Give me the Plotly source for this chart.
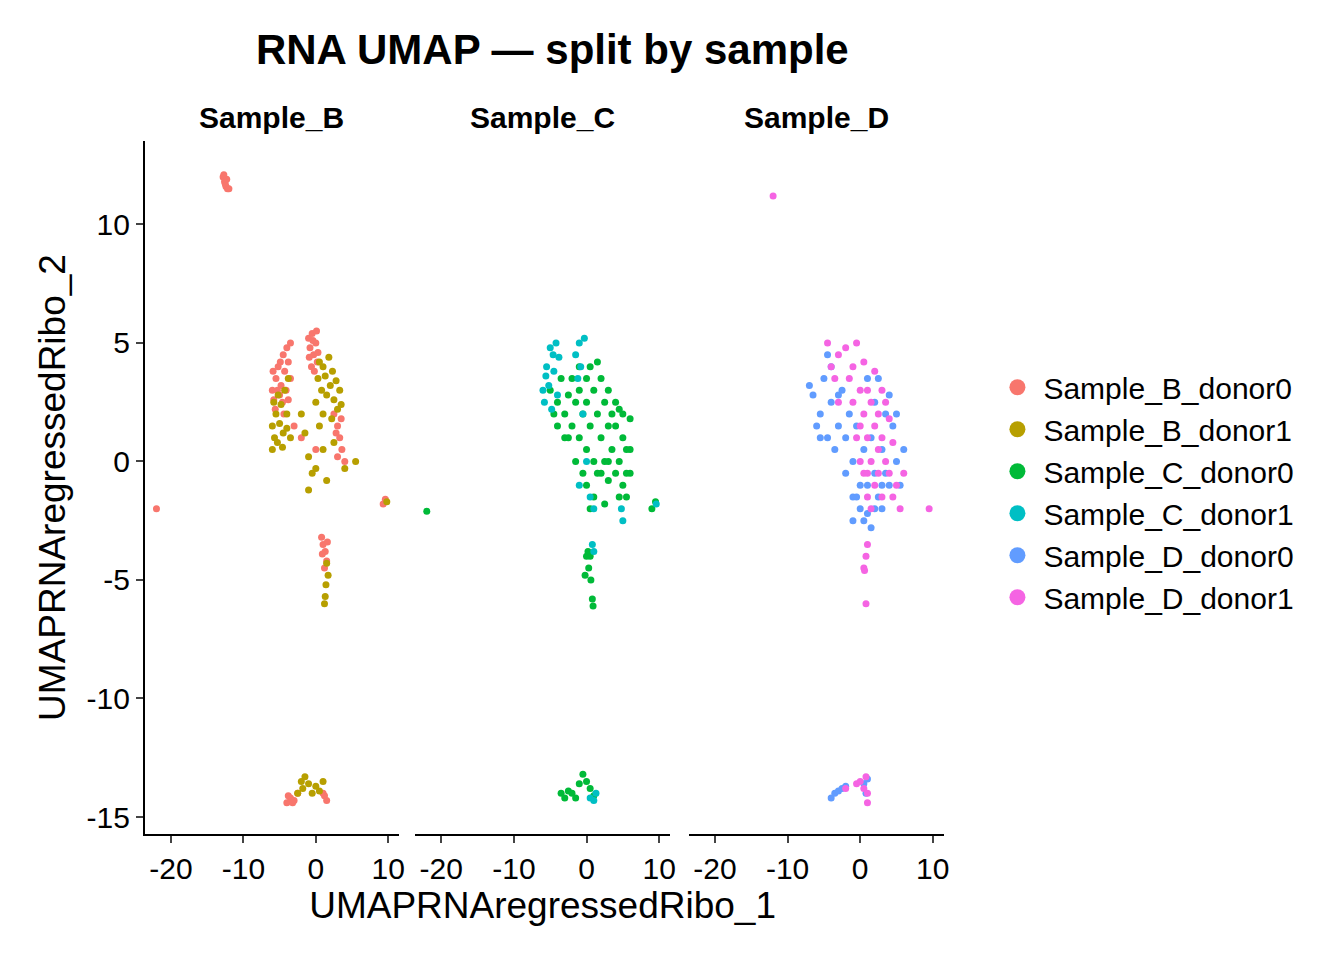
import plotly.graph_objects as go

samples = ["Sample_B", "Sample_C", "Sample_D"]
groups = ["Sample_B_donor0", "Sample_B_donor1", "Sample_C_donor0",
          "Sample_C_donor1", "Sample_D_donor0", "Sample_D_donor1"]
colors = ["#F8766D", "#B79F00", "#00BA38", "#00BFC4", "#619CFF", "#F564E3"]

B0 = [(-12.8,12.0),(-12.6,11.8),(-12.4,11.6),(-12.2,11.5),(-12.5,11.7),(-12.3,11.9),(-12.0,11.5),(-12.7,12.1),
      (-6,3),(-5.8,2.6),(-5.5,3.5),(-5.2,4),(-5,2.8),(-4.8,3.2),(-4.5,4.5),(-4.3,3.8),(-4,4.8),(-3.8,4.2),
      (-3.5,3.5),(-3.5,5),(-5.6,2.2),(-5.3,3.0),(-4.6,2.5),(-4.1,3.0),(-3.8,2.6),(-5.9,3.8),(-4.9,4.2),(-4.4,2.0),
      (-1,5.2),(-0.8,4.8),(-0.5,5.4),(-0.3,4.5),(0,5),(0.2,4.2),(-0.6,4.0),(-0.9,4.4),(0.1,5.5),(-0.2,3.8),
      (0.3,4.6),(-0.4,5.1),(2.5,2),(3,1.5),(3.3,1),(3.6,0.5),(4,0),(3,0.2),(2.8,1.2),(3.5,1.8),
      (-3,1.5),(-2,1),(0,0.5),(0.8,-3.2),(1,-3.5),(1.3,-3.8),(1.5,-4.2),(1.6,-3.4),(1.2,-4.5),(0.9,-3.9),
      (-4,-14.4),(-3.5,-14.2),(-3,-14.3),(-2.5,-14.0),(-3.8,-14.1),(1,-14),(1.5,-14.3),(1.2,-14.1),(-3.2,-14.4),
      (-22,-2),(9.3,-1.8),(9.6,-1.6)]
B1 = [(-6,0.5),(-6,1.5),(-5.7,1),(-5.5,2),(-5.3,0.8),(-5,1.6),(-4.8,2.4),(-4.5,1.2),(-4.3,3),(-4,2),
      (-3.8,3.5),(-3.5,1),(-5.8,2.5),(-5.2,2.8),(-4.6,0.6),(-4,1.4),
      (0,2.5),(0.3,3.5),(0.5,4.2),(0.8,3),(1,4),(1.3,3.6),(1.5,2.8),(1.8,4.4),(2,3.2),(2.3,3.8),(2.5,2.6),
      (2.8,3.4),(3,2.2),(3.3,3),(3.5,2.4),(1,2),(0.5,1.5),(2.2,1.8),
      (-2,2),(-1.5,1.2),(-1,0.2),(-0.5,-0.5),(-1,-1.2),(0,-0.3),(1,0.5),(1.5,-0.8),(4,-0.3),(5.5,0),(2.5,0.8),
      (1.5,-4.3),(1.7,-4.8),(1.4,-5.2),(1.3,-5.7),(1.2,-6),
      (-2,-13.5),(-1.5,-13.3),(-1,-13.6),(0,-13.7),(0.5,-13.9),(1,-13.5),(-0.5,-14),(-2.5,-14),(-1.8,-13.8),
      (9.8,-1.7)]
C0 = [(-5,3),(-4.5,2),(-4,2.5),(-3.5,3.5),(-3,2),(-3,1),(-2.5,2.8),(-2,3.5),(-2,1.5),(-1.5,2.5),(-1,4),
      (-1,3),(-1,1),(-0.5,2),(0,3.5),(0,2.5),(0,0.5),(0,-1),(0.5,4),(0.5,1.5),(1,3),(1,0),(1,-1.5),(1.5,4.2),
      (1.5,2),(2,3.5),(2,1),(2,-0.5),(2.5,2.5),(2.5,0),(3,3),(3,1.5),(3,-0.8),(3.5,2),(3.5,0.5),(4,1.5),
      (4,-0.5),(4.5,2.2),(4.5,0),(5,1),(5,-1),(5.5,0.5),(5.5,-1.5),(6,1.8),(6,-0.5),(4,2.5),(5,2),(-0.5,-0.5),
      (-1.5,0),(0.5,-2),(-4,1.5),(-2.5,1),(1.5,-0.5),(3,0),(4.5,-1.5),(2.5,-1.8),(6,0.5),(5.5,-0.5),
      (0,-4),(0.3,-4.5),(0.5,-4),(-0.2,-4.8),(0.6,-5),(0.8,-5.8),(0.9,-6.1),(0.2,-3.8),
      (-3,-14.2),(-2.5,-13.9),(-2,-14),(-1.5,-14.2),(-1,-13.6),(-0.5,-13.2),(0,-13.5),(0.5,-13.8),(1,-14.1),
      (-3.5,-14),(-22,-2.1),(9,-2),(9.5,-1.7)]
C1 = [(-6,3),(-5.8,2.5),(-5.5,4),(-5.2,3.2),(-5,4.8),(-4.8,2.2),(-4.5,3.8),(-4.2,5),(-4,2.8),(-3.8,4.4),
      (-5.6,3.6),(-4.6,4.5),(-1.5,4.5),(-1,5),(-0.8,4),(-0.3,5.2),(-1.2,3.5),(-0.5,2),(0,0),(0.5,-1.5),
      (1,-2),(-1,-1),(5,-2.5),(4.8,-2),(0.8,-3.5),(1,-3.8),(0.5,-14.2),(1,-14.3),(1.3,-14),(9.6,-1.8)]
D0 = [(-7,3.2),(-6.5,2.8),(-6,1.5),(-5.5,2),(-5,3.5),(-4.5,1),(-4,4),(-4,2.5),(-3.5,0.5),(-3,1.5),
      (-2.5,3),(-2,1),(-2,-0.5),(-1.5,2),(-1,0),(-1,-1.5),(-0.5,1.5),(0,-1),(0,-2),(0.5,0.5),(0.5,-2.5),
      (1,3.5),(1,-1),(1.5,1),(1.5,-2.8),(2,-0.5),(2,2.5),(2.5,-1.5),(3,0.5),(3,-2),(3.5,2),(3.5,-0.5),
      (4,-1),(4.5,1.5),(5,2),(5,0),(5.5,-1),(6,0.5),(-4.5,4.5),(-5.5,1),(-1,-2.5),(2,-2),(4,2.8),
      (-0.5,-1.5),(1,-2.2),(3,-1),(2.5,3.5),(-3,2.8),
      (-4,-14.2),(-3.5,-14),(-3,-13.9),(-2.5,-13.8),(-2,-13.7),(0.5,-13.6),(1,-13.4),(0.8,-14)]
D1 = [(-4.5,5),(-4,4),(-3.5,3.5),(-3,4.5),(-3,2.5),(-2,4.8),(-1,4),(-1,2.5),(-0.5,5),(0,3),(0,1.5),
      (0,0),(0.5,4.2),(0.5,2),(0.5,-0.5),(1,3),(1,1),(1,-1.5),(1.5,2.5),(1.5,0),(2,3.8),(2,1.5),(2,-1),
      (2.5,2),(2.5,0.5),(3,3),(3,1),(3,-1.5),(3.5,0),(4,1.8),(4,-0.5),(4.5,0.8),(5,-1),(5.5,-2),(6,-0.5),
      (-1.5,3.5),(-0.5,1),(1,-0.5),(2.5,-0.5),(3.5,2.5),(4.5,-1.5),(1.5,-2),
      (1,-3.5),(0.8,-4),(0.5,-4.5),(0.8,-6),(0.6,-4.6),(-12,11.2),(9.5,-2),
      (-0.5,-13.6),(0,-13.5),(0.5,-13.8),(1,-14),(1,-14.4),(0.8,-13.3),(-2,-13.8)]

points = [B0, B1, C0, C1, D0, D1]
panel_of = [0, 0, 1, 1, 2, 2]
x_ticks = [-20, -10, 0, 10]
y_ticks = [10, 5, 0, -5, -10, -15]

FONT = "Liberation Sans, Arial, sans-serif"
domains = [(0.1023, 0.2923), (0.3043, 0.4948), (0.5089, 0.6993)]
ydom = [0.14, 0.861]

fig = go.Figure()
for i, g in enumerate(groups):
    p = panel_of[i]
    suffix = "" if p == 0 else str(p + 1)
    fig.add_trace(go.Scatter(
        x=[q[0] for q in points[i]], y=[q[1] for q in points[i]],
        mode="markers", marker=dict(color=colors[i], size=7),
        xaxis="x" + suffix, yaxis="y" + suffix, showlegend=False, hoverinfo="skip"))
for i, g in enumerate(groups):
    fig.add_trace(go.Scatter(x=[None], y=[None], mode="markers", name=g,
                             marker=dict(color=colors[i], size=22)))

layout = dict(
    width=1344, height=960, plot_bgcolor="white", paper_bgcolor="white",
    margin=dict(l=0, r=0, t=0, b=0),
    font=dict(family=FONT, size=30, color="black"),
    title=dict(text="<b>RNA UMAP — split by sample</b>", x=0.405, xanchor="center",
               y=0.957, yanchor="middle", font=dict(size=42)),
    legend=dict(x=0.735, y=0.632, xanchor="left", yanchor="top", font=dict(size=30),
                tracegroupgap=0, itemwidth=42),
)
for p, (d0, d1) in enumerate(domains):
    s = "" if p == 0 else str(p + 1)
    layout["xaxis" + s] = dict(
        domain=[d0, d1], range=[-23.6, 11.5], tickvals=x_ticks, ticktext=[str(v) for v in x_ticks],
        showgrid=False, zeroline=False,
        showline=True, linecolor="black", linewidth=2, ticks="outside", ticklen=7, tickwidth=2,
        anchor="y" + s, tickfont=dict(size=30))
    layout["yaxis" + s] = dict(
        domain=ydom, range=[-15.7, 13.5], tickvals=y_ticks, ticktext=[str(v) for v in y_ticks],
        showgrid=False, zeroline=False,
        showline=(p == 0), linecolor="black", linewidth=2, ticks="outside" if p == 0 else "",
        ticklen=7, tickwidth=2, showticklabels=(p == 0), anchor="x" + s, tickfont=dict(size=30))
    fig.add_annotation(text="<b>" + samples[p] + "</b>", xref="paper", yref="paper",
                       x=(d0 + d1) / 2, y=0.886, xanchor="center", yanchor="middle",
                       showarrow=False, font=dict(size=30))
layout["xaxis2"]["title"] = dict(text="UMAPRNAregressedRibo_1", font=dict(size=37), standoff=4)
layout["yaxis"]["title"] = dict(text="UMAPRNAregressedRibo_2", font=dict(size=37), standoff=10)
fig.update_layout(**layout)

fig.write_html("out.html")
